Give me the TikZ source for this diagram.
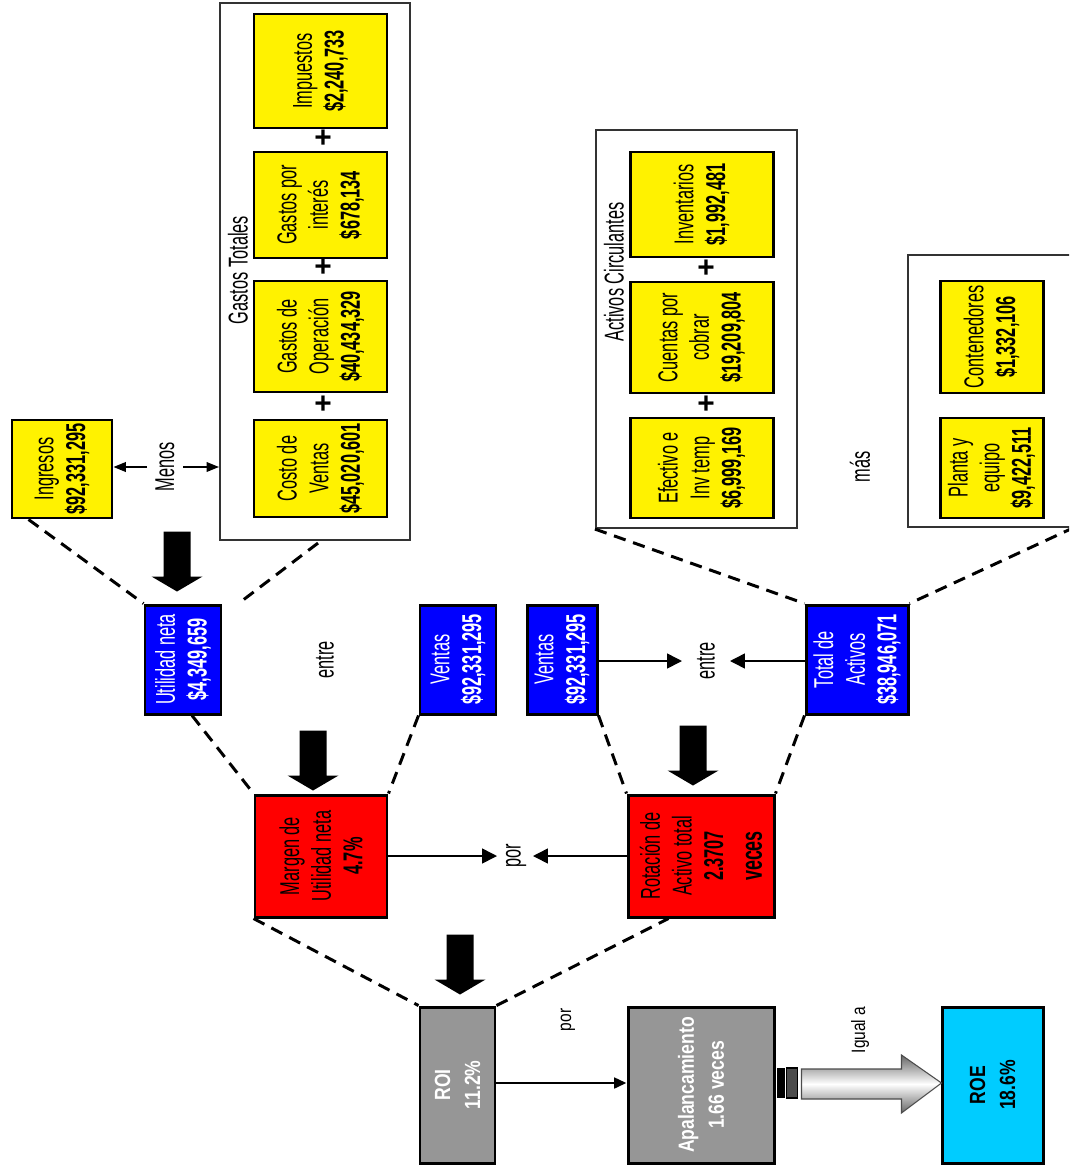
\documentclass[tikz,border=0pt]{standalone}
\usepackage{fontspec}
\setmainfont{Liberation Sans}
\newfontfamily\narrowfont[FakeStretch=0.6]{Liberation Sans}
\newfontfamily\midfont[FakeStretch=0.8]{Liberation Sans}
\usetikzlibrary{arrows.meta,fit,calc}
\definecolor{roigray}{HTML}{969696}
\definecolor{roecyan}{HTML}{00CCFF}
\definecolor{framegray}{HTML}{333333}
\tikzset{
  box/.style={draw=black, line width=1.7pt, inner sep=0pt},
  ybox/.style={box, fill=yellow},
  bbox/.style={box, fill=blue},
  rbox/.style={box, fill=red},
  gbox/.style={box, fill=roigray},
  cbox/.style={box, fill=roecyan},
  groupbox/.style={draw=framegray, line width=1.2pt, inner sep=0pt},
  txt/.style={rotate=90, align=center, inner sep=0pt, font=\narrowfont\fontsize{15.5}{18}\selectfont},
  wtxt/.style={txt, text=white},
  btxt/.style={rotate=90, align=center, inner sep=0pt, font=\midfont\bfseries\fontsize{12.5}{17}\selectfont},
  lbl/.style={rotate=90, inner sep=0pt, font=\narrowfont\fontsize{15.5}{18}\selectfont},
  slbl/.style={rotate=90, inner sep=0pt, font=\midfont\fontsize{11}{13}\selectfont},
  dline/.style={dash pattern=on 7pt off 4.5pt, line width=1.7pt},
  tarrow/.style={line width=0.9pt, -{Triangle[length=8.5pt,width=8.5pt]}},
  sarrow/.style={line width=0.8pt, -{Triangle[length=7pt,width=5.5pt]}},
  plussign/.style={inner sep=0pt, font=\bfseries\fontsize{17}{17}\selectfont},
}
\newcommand\bx[4]{\node[#4, fit={(#2) (#3)}] (#1) {};}
\newcommand\bigarr[3]{\fill[black, shift={($(#1.north)+(#2,#3)$)}] (-13.5,-60) -- (13.5,-60) -- (13.5,-15) -- (25.5,-15) -- (0,0) -- (-25.5,-15) -- (-13.5,-15) -- cycle;}
\begin{document}
\begin{tikzpicture}[x=0.02cm, y=-0.02cm]
\useasboundingbox (0,0) rectangle (1069,1173);
\clip (0,0) rectangle (1069,1173);
\fill[white] (0,0) rectangle (1069,1173);

% ---- group frames
\bx{gastos}{220,3}{410,540}{groupbox}
\bx{activos}{596,130}{797,528}{groupbox}
\bx{fijos}{908,255}{1090,527}{groupbox}
\node[lbl] (gastoslbl) at (238,270) {Gastos Totales};
\node[lbl] (activoslbl) at (614,272) {Activos Circulantes};

% ---- yellow boxes
\bx{ing}{12,420}{112,518}{ybox}
\node[txt] at (ing) {Ingresos\\\textbf{\$92,331,295}};
\bx{costo}{254,420}{387,517}{ybox}
\node[txt] at (costo) {Costo de\\Ventas\\\textbf{\$45,020,601}};
\bx{gop}{254,281}{387,392}{ybox}
\node[txt] at (gop) {Gastos de\\Operación\\\textbf{\$40,434,329}};
\bx{gint}{254,152}{387,258}{ybox}
\node[txt] at (gint) {Gastos por\\interés\\\textbf{\$678,134}};
\bx{imp}{254,14}{387,128}{ybox}
\node[txt] at (imp) {Impuestos\\\textbf{\$2,240,733}};
\node[plussign] (p1) at (323,405) {+};
\node[plussign] (p2) at (323,268) {+};
\node[plussign] (p3) at (323,139) {+};

\bx{efec}{630,418}{773,518}{ybox}
\node[txt] at (efec) {Efectivo e\\Inv temp\\\textbf{\$6,999,169}};
\bx{cuen}{630,282}{773,393}{ybox}
\node[txt] at (cuen) {Cuentas por\\cobrar\\\textbf{\$19,209,804}};
\bx{inv}{630,152}{773,257}{ybox}
\node[txt] at (inv) {Inventarios\\\textbf{\$1,992,481}};
\node[plussign] (p4) at (706,405) {+};
\node[plussign] (p5) at (706,269) {+};

\bx{planta}{940,418}{1043,518}{ybox}
\node[txt] at (planta) {Planta y\\equipo\\\textbf{\$9,422,511}};
\bx{cont}{940,281}{1043,393}{ybox}
\node[txt] at (cont) {Contenedores\\\textbf{\$1,332,106}};

% ---- blue boxes
\bx{util}{145,605}{221,714}{bbox}
\node[wtxt] at (util) {Utilidad neta\\\textbf{\$4,349,659}};
\bx{ventasa}{420,605}{496,714}{bbox}
\node[wtxt] at (ventasa) {Ventas\\\textbf{\$92,331,295}};
\bx{ventasb}{527,605}{597,714}{bbox}
\node[wtxt] at (ventasb) {Ventas\\\textbf{\$92,331,295}};
\bx{total}{806,605}{908,714}{bbox}
\node[wtxt] at (total) {Total de\\Activos\\\textbf{\$38,946,071}};

% ---- red boxes
\bx{margen}{255,795}{387,917}{rbox}
\node[txt] at (margen) {Margen de\\Utilidad neta\\\textbf{4.7\%}};
\bx{rot}{628,795}{774,917}{rbox}
\node[txt] at (rot) {Rotación de\\Activo total\\\textbf{2.3707}\\[4pt]{\bfseries\fontsize{17}{18}\selectfont veces}};

% ---- bottom row
\bx{roi}{420,1007}{495,1163}{gbox}
\node[btxt, text=white] at (roi) {ROI\\11.2\%};
\bx{apal}{628,1007}{774,1163}{gbox}
\node[btxt, text=white] at (apal) {Apalancamiento\\1.66 veces};
\bx{roe}{942,1007}{1043,1163}{cbox}
\node[btxt, text=black] at (roe) {ROE\\18.6\%};

% ---- labels
\node[lbl] (menos) at (165,467) {Menos};
\node[lbl] (entrea) at (325,660) {entre};
\node[lbl] (entreb) at (706,661) {entre};
\node[lbl] (porA) at (516,856) {por};
\node[lbl] (mas) at (860,467) {más};
\node[slbl] (porB) at (568,1020) {por};
\node[slbl] (igual) at (860,1030) {Igual a};

% ---- thin arrows
\draw[sarrow] ($(menos.center)+(-18,0)$) -- (menos.center -| ing.east);
\draw[sarrow] ($(menos.center)+(18,0)$) -- (menos.center -| gastos.west);
\draw[tarrow] (entreb.center -| ventasb.east) -- ($(entreb.center)+(-24,0)$);
\draw[tarrow] (entreb.center -| total.west) -- ($(entreb.center)+(24,0)$);
\draw[tarrow] (porA.center -| margen.east) -- ($(porA.center)+(-19,0)$);
\draw[tarrow] (porA.center -| rot.west) -- ($(porA.center)+(17,0)$);
\draw[line width=1.6pt, -{Triangle[length=7pt,width=6pt]}] ($(roi.east)+(0,-2)$) -- ($(roi.east -| apal.west)+(0,-2)$);

% ---- dashed connectors
\coordinate (fijosend) at (1075,527);
\draw[dline] ($(ing.south west)+(18,0)$) -- (util.north west);
\draw[dline] ($(gastos.south)+(3,2)$) -- ($(util.north east)+(16,0)$);
\draw[dline] ($(util.south)+(9,0)$) -- (margen.north west);
\draw[dline] (ventasa.south west) -- (margen.north east);
\draw[dline] (ventasb.south east) -- (rot.north west);
\draw[dline] (total.south west) -- (rot.north east);
\draw[dline] (activos.south west) -- (total.north west);
\draw[dline] (fijosend) -- (total.north east);
\draw[dline] (margen.south west) -- (roi.north west);
\draw[dline] (roi.north east) -- ($(rot.south west)+(42,0)$);

% ---- big black arrows
\bigarr{util}{-6}{-12}
\bigarr{margen}{-8}{-3}
\bigarr{rot}{-8}{-8}
\bigarr{roi}{2.5}{-11}

% ---- gradient arrow to ROE
\begin{scope}[shift={(apal.east)}]
  \fill[black] (1,-17) rectangle (9,13);
  \filldraw[fill=black!70, draw=black, line width=0.6pt] (11,-17) rectangle (22,13);
  \shade[top color=black!60, bottom color=black!60, middle color=white, draw=black!70, line width=0.6pt]
    (26,-16) -- (126,-16) -- (126,-30) -- (166,-2) -- (126,28) -- (126,14) -- (26,14) -- cycle;
\end{scope}
\end{tikzpicture}
\end{document}
